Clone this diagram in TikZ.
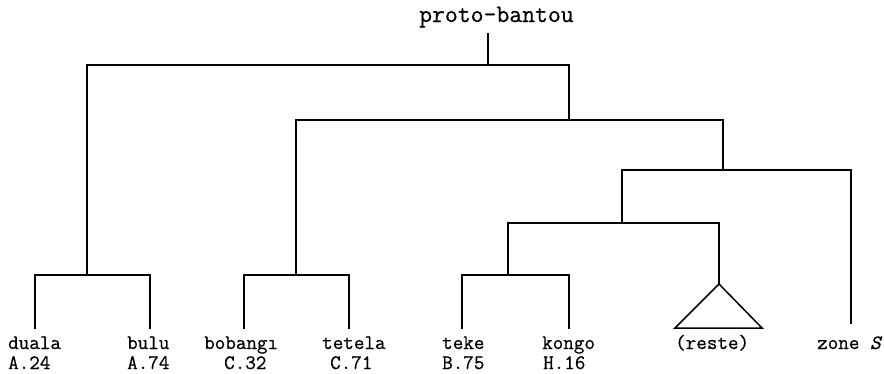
\documentclass[tikz,border=0pt]{standalone}
\usepackage{fontspec}
\newfontfamily\typew[FakeBold=0.6]{Latin Modern Mono}
\begin{document}
\begin{tikzpicture}[x=1pt,y=-1pt,
  branch/.style={line width=1.5pt,line join=miter,line cap=rect},
  leaf/.style={anchor=base west,inner sep=0pt,font=\typew\fontsize{20.5}{24}\selectfont},
  rootlbl/.style={anchor=base west,inner sep=0pt,font=\typew\fontsize{25}{28}\selectfont}]
\useasboundingbox (0,0) rectangle (884,373);

% root label and its stem
\node[rootlbl] (root) at (419,22) {proto-bantou};
\coordinate (rt) at (488,34);

% internal junctions of the tree
\coordinate (n0) at (488,65);
\coordinate (nA) at (87,275);
\coordinate (nB) at (569,120);
\coordinate (nC) at (296,275);
\coordinate (nD) at (723,170);
\coordinate (nE) at (622,223);
\coordinate (nF) at (508,275);

% ends of the leaf stems
\coordinate (tDuala)   at (35,328);
\coordinate (tBulu)    at (150,328);
\coordinate (tBobangi) at (244,328);
\coordinate (tTetela)  at (349,328);
\coordinate (tTeke)    at (462,328);
\coordinate (tKongo)   at (569,328);
\coordinate (tReste)   at (719,284);
\coordinate (tZoneS)   at (851,323);
\coordinate (rL) at (675,328);
\coordinate (rR) at (762,328);

% branches
\draw[branch] (rt) -- (n0);
\draw[branch] (nA) |- (n0) -| (nB);
\draw[branch] (tDuala) |- (nA) -| (tBulu);
\draw[branch] (nC) |- (nB) -| (nD);
\draw[branch] (tBobangi) |- (nC) -| (tTetela);
\draw[branch] (nE) |- (nD) -| (tZoneS);
\draw[branch] (nF) |- (nE) -| (tReste);
\draw[branch] (tTeke) |- (nF) -| (tKongo);
\draw[branch,line cap=butt] (tReste) -- (rR) -- (rL) -- cycle;

% leaf labels
\node[leaf] (duala)  at (8,349)   {duala};
\node[leaf] (dualaC) at (8,369)   {A.24};
\node[leaf] (bulu)   at (127,349) {bulu};
\node[leaf] (buluC)  at (127,369) {A.74};
\node[leaf] (bobangi)  at (204,349) {bobangı};
\node[leaf] (bobangiC) at (224,369) {C.32};
\node[leaf] (tetela)  at (322,349) {tetela};
\node[leaf] (tetelaC) at (330,369) {C.71};
\node[leaf] (teke)  at (442,349) {teke};
\node[leaf] (tekeC) at (442,369) {B.75};
\node[leaf] (kongo)  at (542,349) {kongo};
\node[leaf] (kongoC) at (543,369) {H.16};
\node[leaf] (reste) at (675,349) {(reste)};
\node[leaf] (zoneS) at (817,349) {zone {\itshape S}};
\end{tikzpicture}
\end{document}
